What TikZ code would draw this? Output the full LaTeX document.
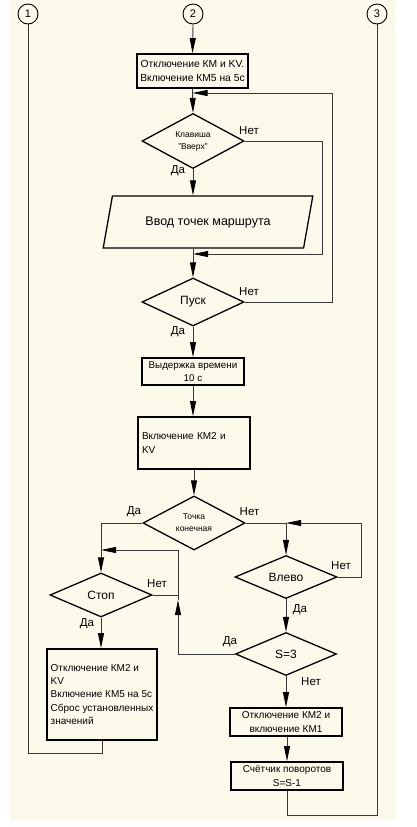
\documentclass[tikz,border=0pt]{standalone}
\usepackage{fontspec}
\setmainfont{Liberation Sans}
\usetikzlibrary{arrows.meta,shapes.geometric}
\definecolor{cream}{RGB}{251,250,234}
\definecolor{ln}{RGB}{55,55,55}
\tikzset{
  every node/.style={font=\fontsize{10}{14}\selectfont},
  boxn/.style={draw=black,line width=1.8pt,rectangle,inner sep=3pt,align=center},
  dia/.style={draw=black,line width=1.3pt,diamond,inner sep=0pt,align=center,font=\fontsize{12}{14}\selectfont},
  con/.style={draw=ln,line width=0.9pt},
  arr/.style={con,-{Triangle[length=15pt,width=6pt,black]}},
  lab/.style={inner sep=0pt,font=\fontsize{11.5}{13}\selectfont},
  circ/.style={draw=black,line width=0.9pt,circle,minimum size=20pt,inner sep=0pt,font=\fontsize{11}{13}\selectfont}
}
\begin{document}
\begin{tikzpicture}[x=1pt,y=-1pt]
\useasboundingbox (0,0) rectangle (416,827);
\fill[cream] (10,0) rectangle (395,820);
% circles
\node[circ] (c1) at (28,14) {1};
\node[circ] (c2) at (193,14) {2};
\node[circ] (c3) at (377,14) {3};
% boxes and decisions
\node[boxn,minimum width=111,minimum height=34,font=\fontsize{10.3}{14}\selectfont] (b1) at (192.5,71) {Отключение КМ и KV.\\Включение КМ5 на 5с};
\node[dia,minimum width=102,minimum height=44,font=\fontsize{8.5}{12}\selectfont] (d1) at (193,141) {Клавиша\\"Вверх"};
\node[draw=black,line width=1.3pt,trapezium,trapezium left angle=61.7,trapezium right angle=118.3,trapezium stretches=true,minimum width=210,minimum height=52,inner sep=0pt,font=\fontsize{12.5}{14}\selectfont] (inp) at (208,222) {Ввод точек маршрута};
\node[dia,minimum width=102,minimum height=48] (d2) at (193,302) {Пуск};
\node[boxn,minimum width=102,minimum height=27,font=\fontsize{9.8}{13}\selectfont] (b2) at (193,371.5) {Выдержка времени\\10 с};
\node[boxn,text width=104,inner sep=4pt,minimum height=52,align=left] (b3) at (194,443) {Включение КМ2 и\\KV};
\node[dia,minimum width=102,minimum height=43,font=\fontsize{8.5}{12}\selectfont] (d3) at (194,523) {Точка\\конечная};
\node[dia,minimum width=102,minimum height=44] (d4) at (101,595) {Стоп};
\node[dia,minimum width=102,minimum height=43] (d5) at (286,577) {Влево};
\node[dia,minimum width=101,minimum height=43] (d6) at (286,654) {S=3};
\node[boxn,minimum width=110,minimum height=91,align=left,inner sep=1pt,font=\fontsize{10}{13.3}\selectfont] (b4) at (102,694.5) {Отключение КМ2 и\\KV\\Включение КМ5 на 5с\\Сброс установленных\\значений};
\node[boxn,minimum width=112,minimum height=28] (b5) at (286,722) {Отключение КМ2 и\\включение КМ1};
\node[boxn,minimum width=112,minimum height=28] (b6) at (287,776) {Счётчик поворотов\\S=S-1};
% helper coordinates
\coordinate (j1) at (28,753);
\coordinate (j3) at (377,815);
\coordinate (k1) at (322,254);
\coordinate (k2) at (332,93);
\coordinate (k3) at (361,523);
\coordinate (k4) at (178,550);
\coordinate (k5) at (178,600);
% connectors
\draw[con] (c1.south) -- (j1) -| (b4.south);
\draw[con] (b6.south) |- (j3) -- (c3.south);
\draw[arr] (c2.south) -- (b1.north);
\draw[arr] (b1.south) -- (d1.north);
\draw[arr] (d1.east) -| (k1) -- (d2 |- k1);
\draw[arr] (d1.south) -- (d1.south |- inp.north);
\draw[arr] (inp.south -| d2) -- (d2.north);
\draw[arr] (d2.east) -| (k2) -- (b1.south |- k2);
\draw[arr] (d2.south) -- (b2.north);
\draw[arr] (b2.south) -- (b3.north -| b2.south);
\draw[arr] (b3.south -| d3) -- (d3.north);
\draw[arr] (d3.west) -| (d4.north);
\draw[arr] (d3.east) -| (d5.north);
\draw[arr] (d5.east) -| (k3) -- (d5 |- k3);
\draw[arr] (d5.south) -- (d6.north);
\draw[arr] (d6.west) -| (k5);
\draw[arr] (k5) |- (d4.north |- k4);
\draw[con] (d4.east) -- (d4.east -| k4);
\draw[arr] (d4.south) -- (b4.north -| d4.south);
\draw[arr] (d6.south) -- (b5.north);
\draw[arr] (b5.south -| b6.south) -- (b6.north);
% labels
\node[lab] (l1) at (249,131) {Нет};
\node[lab] (l2) at (178,171) {Да};
\node[lab] (l3) at (249,292) {Нет};
\node[lab] (l4) at (178,332) {Да};
\node[lab] (l5) at (134,512) {Да};
\node[lab] (l6) at (249.5,512) {Нет};
\node[lab] (l7) at (341,566) {Нет};
\node[lab] (l8) at (157,584) {Нет};
\node[lab] (l9) at (300,610) {Да};
\node[lab] (l10) at (87,624) {Да};
\node[lab] (l11) at (230,642) {Да};
\node[lab] (l12) at (311,682) {Нет};
\end{tikzpicture}
\end{document}
